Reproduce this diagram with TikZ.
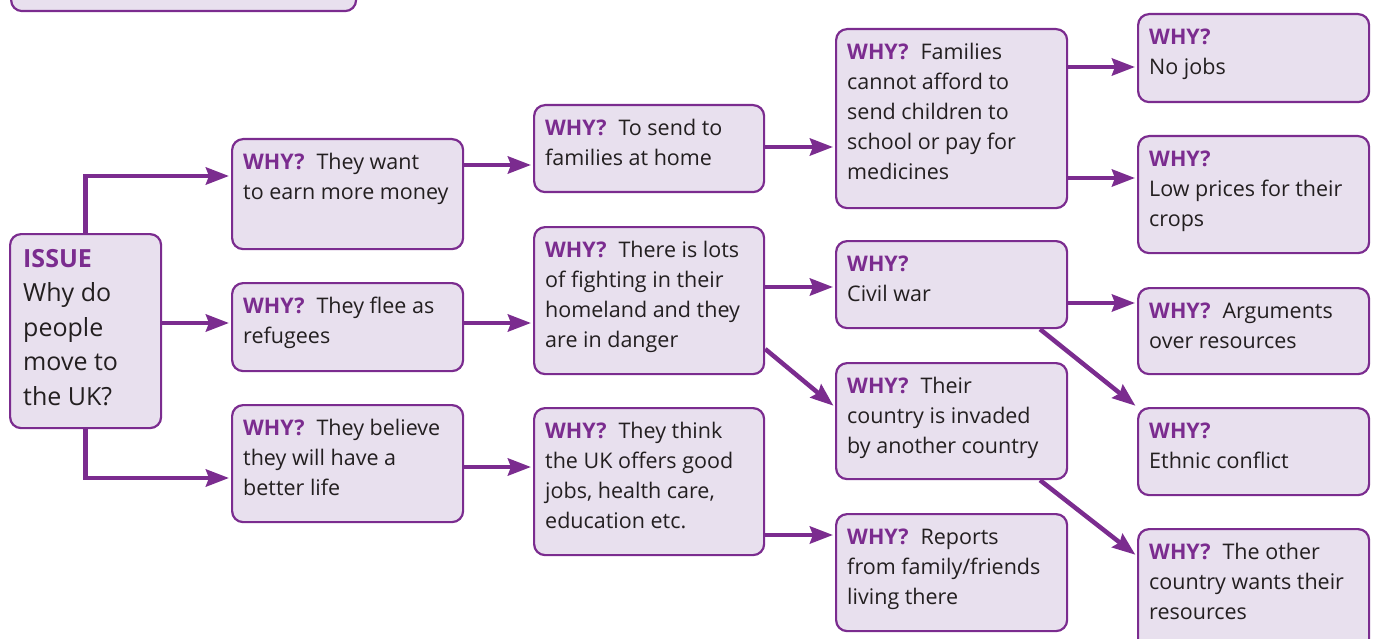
\documentclass[tikz,border=0pt]{standalone}
\usepackage{fontspec}
\setmainfont{Open Sans}
\usetikzlibrary{arrows.meta,calc}
\definecolor{pur}{HTML}{7B2C8F}
\definecolor{boxfill}{HTML}{E8E0EE}
\definecolor{ink}{HTML}{231F20}
\newcommand{\why}{\textcolor{pur}{\textbf{WHY?}}\hspace{12pt}}
\newcommand{\whyl}{\textcolor{pur}{\textbf{WHY?}}}
\newcommand{\bx}[6]{%
  \node[box, minimum width=#4-#2, minimum height=#5-#3] (#1) at (#2,#3) {};
  \node[txt] (#1-t) at (#2+12,#3+10) {\strut #6};}
\begin{document}
\begin{tikzpicture}[x=1pt,y=-1pt,
  box/.style={draw=pur, fill=boxfill, line width=2.2pt, rounded corners=11pt, anchor=north west, inner sep=0pt},
  txt/.style={anchor=north west, inner sep=0pt, align=left, text=ink, font=\fontsize{21.5}{30}\selectfont},
  arr/.style={draw=pur, line width=4.5pt, -{Stealth[length=23pt,width=17pt,inset=3pt]}, shorten >=2pt}]
\useasboundingbox (0,0) rectangle (1375,639);
\clip (0,0) rectangle (1375,639);

% partial box at top
\node[box, minimum width=345, minimum height=50] (top) at (10,-40) {};

% issue
\node[box, minimum width=151, minimum height=194] (issue) at (9,233) {};
\node[txt, font=\fontsize{25}{34.5}\selectfont] (issue-t) at (23,243)
  {\strut\textcolor{pur}{\textbf{ISSUE}}\\Why do\\people\\move to\\the UK?};

\bx{b1}{231}{138}{462}{248}{\why They want\\to earn more money}
\bx{b2}{231}{282}{462}{370}{\why They flee as\\refugees}
\bx{b3}{231}{404}{462}{521}{\why They believe\\they will have a\\better life}

\bx{c1}{533}{104}{763}{191}{\why To send to\\families at home}
\bx{c2}{533}{226}{763}{373}{\why There is lots\\of fighting in their\\homeland and they\\are in danger}
\bx{c3}{533}{407}{763}{554}{\why They think\\the UK offers good\\jobs, health care,\\education etc.}

\bx{d1}{835}{28}{1066}{207}{\why Families\\cannot afford to\\send children to\\school or pay for\\medicines}
\bx{d2}{835}{240}{1066}{327}{\whyl\\Civil war}
\bx{d3}{835}{362}{1066}{478}{\why Their\\country is invaded\\by another country}
\bx{d4}{835}{513}{1066}{630}{\why Reports\\from family/friends\\living there}

\bx{e1}{1137}{13}{1368}{101}{\whyl\\No jobs}
\bx{e2}{1137}{135}{1368}{252}{\whyl\\Low prices for their\\crops}
\bx{e3}{1137}{287}{1368}{373}{\why Arguments\\over resources}
\bx{e4}{1137}{407}{1368}{494}{\whyl\\Ethnic conflict}
\bx{e5}{1137}{528}{1368}{660}{\why The other\\country wants their\\resources}

% connectors
\draw[arr] (issue.north) |- (b1.west |- 0,176);
\draw[arr] (issue.east |- 0,323) -- (b2.west |- 0,323);
\draw[arr] (issue.south) |- (b3.west |- 0,478);

\draw[arr] (b1.east |- 0,165) -- (c1.west |- 0,165);
\draw[arr] (b2.east |- 0,323) -- (c2.west |- 0,323);
\draw[arr] (b3.east |- 0,467) -- (c3.west |- 0,467);

\draw[arr] (c1.east |- 0,147) -- (d1.west |- 0,147);
\draw[arr] (c2.east |- 0,287) -- (d2.west |- 0,287);
\draw[arr] (c2.east |- 0,349) -- (d3.west |- 0,407);
\draw[arr] (c3.east |- 0,535) -- (d4.west |- 0,535);

\draw[arr] (d1.east |- 0,67) -- (e1.west |- 0,67);
\draw[arr] (d1.east |- 0,178) -- (e2.west |- 0,178);
\draw[arr] (d2.east |- 0,303) -- (e3.west |- 0,303);
\draw[arr] (d2.south -| 1040,0) -- (e4.north west);
\draw[arr] (d3.south -| 1040,0) -- (e5.west |- 0,556);
\end{tikzpicture}
\end{document}
